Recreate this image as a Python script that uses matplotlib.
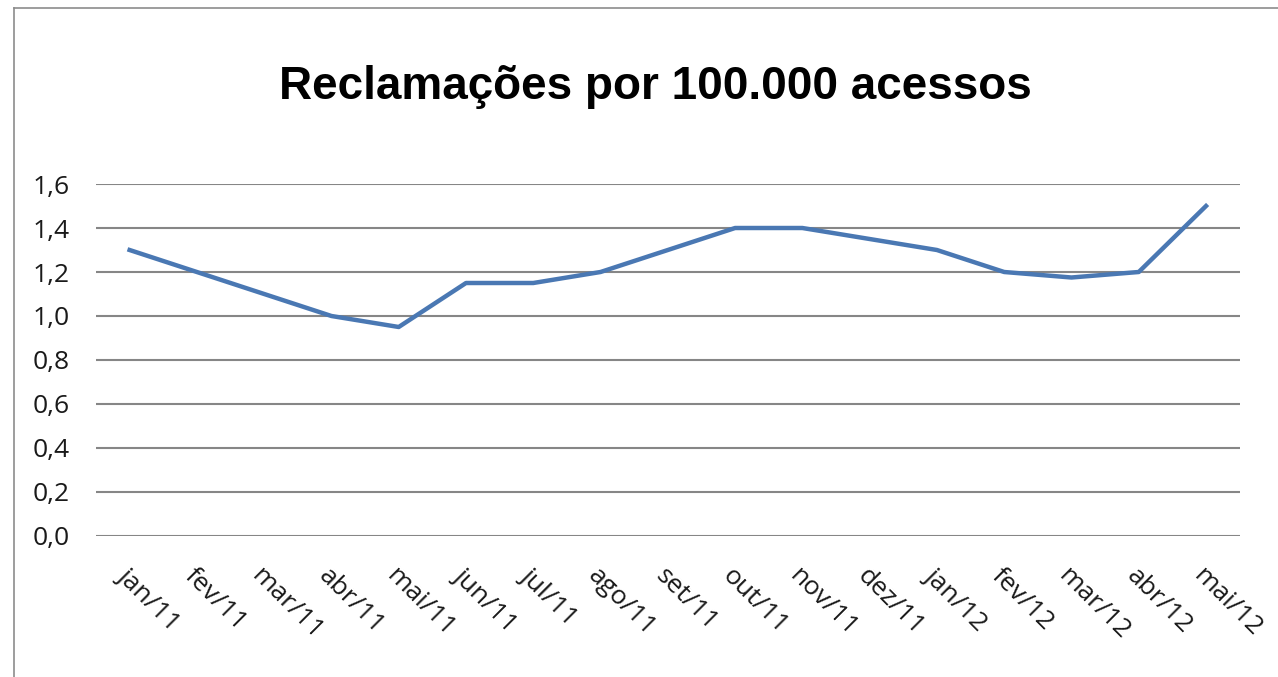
import matplotlib.pyplot as plt
from matplotlib.lines import Line2D

meses = ['jan/11', 'fev/11', 'mar/11', 'abr/11', 'mai/11', 'jun/11', 'jul/11',
         'ago/11', 'set/11', 'out/11', 'nov/11', 'dez/11', 'jan/12', 'fev/12',
         'mar/12', 'abr/12', 'mai/12']
reclamacoes = [1.30, 1.20, 1.10, 1.00, 0.95, 1.15, 1.15, 1.20, 1.30, 1.40,
               1.40, 1.35, 1.30, 1.20, 1.175, 1.20, 1.50]
yticks = [0.0, 0.2, 0.4, 0.6, 0.8, 1.0, 1.2, 1.4, 1.6]

fig = plt.figure(figsize=(12.78, 6.77), dpi=100)
ax = fig.add_axes([0.0751, 0.2083, 0.8949, 0.5199])

# moldura da imagem (borda esquerda e superior)
fig.add_artist(Line2D([14 / 1278, 14 / 1278], [0, 1 - 8 / 677], color='#8c8c8c', lw=1.2))
fig.add_artist(Line2D([14 / 1278, 1], [1 - 8 / 677, 1 - 8 / 677], color='#8c8c8c', lw=1.2))

x = list(range(len(meses)))
ax.plot(x, reclamacoes, color='#4a78b3', lw=3.2, solid_joinstyle='round')

ax.set_xlim(-0.5, len(meses) - 0.5)
ax.set_ylim(0, 1.6)
ax.set_yticks(yticks)
ax.set_yticklabels([f'{v:.1f}'.replace('.', ',') for v in yticks],
                   fontsize=19, family='Open Sans', color='#1a1a1a')
ax.set_xticks(x)
ax.set_xticklabels(meses, rotation=-45, ha='left', va='top', rotation_mode='anchor',
                   fontsize=19, family='Open Sans', color='#1a1a1a')
ax.tick_params(axis='both', length=0)
ax.tick_params(axis='x', pad=20)
ax.tick_params(axis='y', pad=19)
ax.grid(axis='y', color='#868686', lw=1.5)
ax.set_axisbelow(True)
for s in ax.spines.values():
    s.set_visible(False)

fig.text(0.513, 1 - 87 / 677, 'Reclamações por 100.000 acessos', ha='center', va='center',
         fontsize=33, fontweight='bold', family='Liberation Sans')

fig.savefig('out.png', dpi=100)
